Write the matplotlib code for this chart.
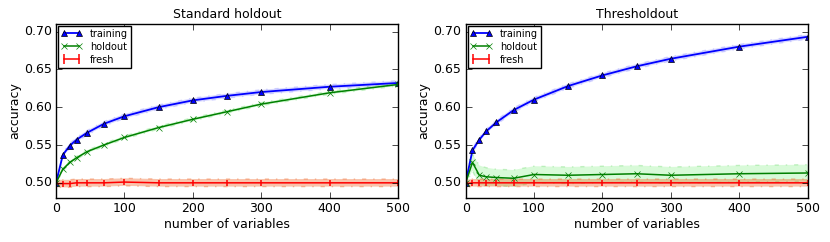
import numpy as np
import matplotlib
matplotlib.use('Agg')
import matplotlib.pyplot as plt

plt.style.use('classic')
plt.rcParams['font.size'] = 9

n_vars = [0, 10, 20, 30, 45, 70, 100, 150, 200, 250, 300, 400, 500]

# standard holdout
std_train = [0.500, 0.537, 0.549, 0.557, 0.566, 0.578, 0.588, 0.600, 0.609, 0.615, 0.620, 0.627, 0.632]
std_train_sd = [0.002, 0.003, 0.003, 0.003, 0.003, 0.003, 0.003, 0.003, 0.003, 0.003, 0.003, 0.003, 0.003]
std_hold = [0.500, 0.518, 0.527, 0.533, 0.541, 0.550, 0.560, 0.573, 0.584, 0.594, 0.604, 0.619, 0.630]
std_hold_sd = [0.002, 0.002, 0.002, 0.002, 0.002, 0.002, 0.002, 0.002, 0.002, 0.002, 0.002, 0.002, 0.002]
std_fresh = [0.499, 0.499, 0.499, 0.500, 0.500, 0.500, 0.501, 0.500, 0.500, 0.500, 0.500, 0.500, 0.500]
std_fresh_sd = [0.005, 0.005, 0.005, 0.005, 0.005, 0.005, 0.005, 0.005, 0.005, 0.005, 0.005, 0.005, 0.005]

# thresholdout
thr_train = [0.500, 0.543, 0.557, 0.568, 0.580, 0.596, 0.610, 0.628, 0.642, 0.654, 0.664, 0.680, 0.693]
thr_train_sd = [0.002, 0.003, 0.003, 0.003, 0.003, 0.003, 0.003, 0.003, 0.003, 0.003, 0.003, 0.003, 0.003]
thr_hold = [0.500, 0.527, 0.510, 0.508, 0.507, 0.506, 0.511, 0.510, 0.511, 0.512, 0.510, 0.512, 0.513]
thr_hold_sd = [0.002, 0.011, 0.013, 0.012, 0.011, 0.011, 0.011, 0.011, 0.011, 0.011, 0.011, 0.011, 0.011]
thr_fresh = [0.499, 0.500, 0.500, 0.500, 0.500, 0.500, 0.500, 0.500, 0.500, 0.500, 0.500, 0.500, 0.500]
thr_fresh_sd = [0.005, 0.005, 0.005, 0.005, 0.005, 0.005, 0.005, 0.005, 0.005, 0.005, 0.005, 0.005, 0.005]

panels = [
    ('Standard holdout', std_train, std_train_sd, std_hold, std_hold_sd, std_fresh, std_fresh_sd),
    ('Thresholdout', thr_train, thr_train_sd, thr_hold, thr_hold_sd, thr_fresh, thr_fresh_sd),
]

fig = plt.figure(figsize=[8.3, 2.42], dpi=100, facecolor='white')
lefts = [0.0675, 0.561]

x = np.array(n_vars)
for i, (title, tr, tr_sd, ho, ho_sd, fr, fr_sd) in enumerate(panels):
    ax = fig.add_axes([lefts[i], 0.182, 0.412, 0.719])
    tr, tr_sd = np.array(tr), np.array(tr_sd)
    ho, ho_sd = np.array(ho), np.array(ho_sd)
    fr, fr_sd = np.array(fr), np.array(fr_sd)

    ax.fill_between(x, tr - tr_sd, tr + tr_sd, facecolor='#8080ff', edgecolor='#8080ff',
                    alpha=0.3, linestyle='dashdot')
    ax.fill_between(x, ho - ho_sd, ho + ho_sd, facecolor='#66ee66', edgecolor='#33cc33',
                    alpha=0.25, linestyle='dashdot')
    ax.fill_between(x, fr - fr_sd, fr + fr_sd, facecolor='#ee5511', edgecolor='#ee5511',
                    alpha=0.35, linestyle='dashdot')

    ax.plot(x, tr, 'b^-', markersize=5, linewidth=1.3, label='training')
    ax.plot(x, ho, 'x-', color=(0, 0.5, 0), mec=(0, 0.5, 0), markersize=4.5,
            linewidth=1.1, label='holdout')
    ax.errorbar(x, fr, yerr=fr_sd * 0.8, color='r', capsize=0, linewidth=1.1,
                label='fresh')

    ax.set_xlim(0, 500)
    ax.set_ylim(0.48, 0.71)
    ax.set_yticks([0.50, 0.55, 0.60, 0.65, 0.70])
    ax.set_xlabel('number of variables', labelpad=2)
    ax.set_ylabel('accuracy', labelpad=2)
    ax.set_title(title, fontsize=9, pad=4)
    ax.tick_params(labelsize=9, pad=3)
    ax.legend(loc='upper left', fontsize=7, numpoints=2, borderpad=0.3,
              handlelength=2.2, labelspacing=0.3, borderaxespad=0.2)

plt.savefig('out.png', dpi=100, facecolor='white')
